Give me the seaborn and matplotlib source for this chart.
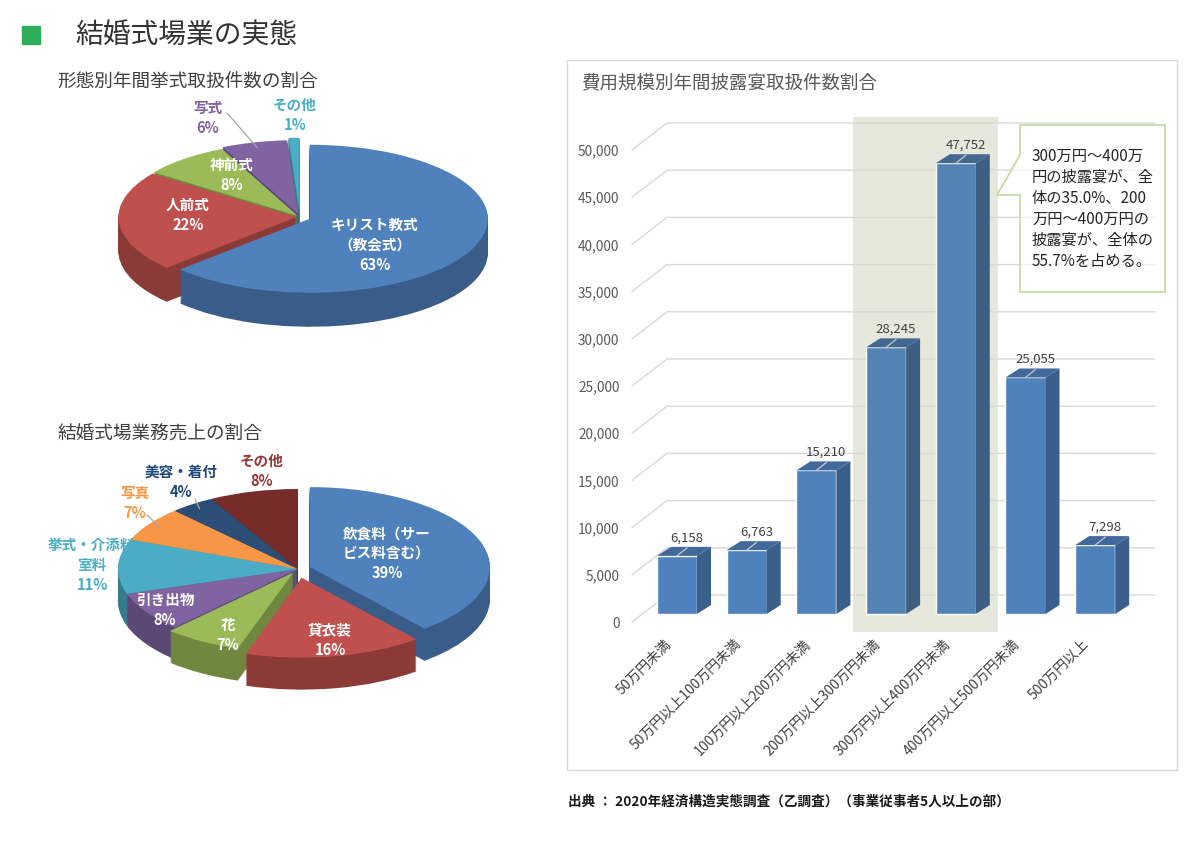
import numpy as np
import matplotlib
matplotlib.use("Agg")
import matplotlib.pyplot as plt
import seaborn as sns
from matplotlib.colors import to_rgb
from matplotlib.patches import Rectangle, Polygon
from matplotlib.transforms import ScaledTranslation

# 形態別年間挙式取扱件数の割合
ceremony_labels = ["キリスト教式\n（教会式）", "人前式", "神前式", "写式", "その他"]
ceremony_share = [63, 22, 8, 6, 1]

# 結婚式場業務売上の割合
sales_labels = ["飲食料（サー\nビス料含む）", "貸衣装", "花", "引き出物",
                "挙式・介添料\n室料", "写真", "美容・着付", "その他"]
sales_share = [39, 16, 7, 8, 11, 7, 4, 8]

# 費用規模別年間披露宴取扱件数
cost_bins = ["50万円未満", "50万円以上100万円未満", "100万円以上200万円未満",
             "200万円以上300万円未満", "300万円以上400万円未満",
             "400万円以上500万円未満", "500万円以上"]
banquet_counts = [6158, 6763, 15210, 28245, 47752, 25055, 7298]
y_ticks = list(range(0, 50001, 5000))

note = ("300万円～400万\n円の披露宴が、全\n体の35.0%、200\n"
        "万円～400万円の\n披露宴が、全体の\n55.7%を占める。")
source = "出典 ： 2020年経済構造実態調査（乙調査）（事業従事者5人以上の部）"

W, H = 1200, 844
sns.set_theme(style="white")
plt.rcParams["font.family"] = ["Noto Sans CJK JP", "DejaVu Sans"]
fig = plt.figure(figsize=(12, 8.44), dpi=100)
fig.patch.set_facecolor("white")


def fx(x):
    return x / W


def fy(y):
    return 1 - y / H


def shade(c, f):
    return tuple(np.clip(np.array(to_rgb(c)) * f, 0, 1))


def pie3d(box, center, rx, ry, depth, values, colors, explode, layers=32):
    x0, y0, x1, y1 = box
    cx, cy = center
    ax = fig.add_axes([fx(x0), fy(y1), (x1 - x0) / W, (y1 - y0) / H])
    d = depth / ry
    side = [shade(c, 0.72) for c in colors]
    for k in range(layers, 0, -1):
        ax.pie(values, colors=side, explode=explode, startangle=90,
               counterclock=False, center=(0, -d * k / layers),
               wedgeprops=dict(linewidth=0))
    wedges, _ = ax.pie(values, colors=colors, explode=explode, startangle=90,
                       counterclock=False, wedgeprops=dict(linewidth=0))
    ax.set_aspect("auto")
    ax.set_xlim((x0 - cx) / rx, (x1 - cx) / rx)
    ax.set_ylim(-(y1 - cy) / ry, (cy - y0) / ry)
    ax.axis("off")
    return ax, wedges


def pie_labels(ax, wedges, labels, values, rx, ry, offsets, colors, leaders):
    for w, lab, v, (dx, dy), c, ld in zip(wedges, labels, values, offsets, colors, leaders):
        ax.text(dx / rx, -dy / ry, f"{lab}\n{v}%", ha="center", va="center",
                color=c, fontsize=10.5, fontweight="bold", linespacing=1.3)
        if ld is not None:
            th = np.deg2rad((w.theta1 + w.theta2) / 2)
            ex, ey = w.center[0] + 0.93 * np.cos(th), w.center[1] + 0.93 * np.sin(th)
            ax.plot([ld[0] / rx, ex], [-ld[1] / ry, ey], color="#A6A6A6", lw=0.9)


# 見出し
fig.add_artist(Rectangle((fx(22), fy(44)), 18 / W, 18 / H, color="#2EAD5B",
                         transform=fig.transFigure))
fig.text(fx(75), fy(36), "結婚式場業の実態", fontsize=20, color="#333333", va="center")
fig.text(fx(57), fy(82), "形態別年間挙式取扱件数の割合", fontsize=13.4, color="#404040", va="center")
fig.text(fx(57), fy(435), "結婚式場業務売上の割合", fontsize=13.4, color="#404040", va="center")

# 上の円グラフ
top_colors = ["#4F81BD", "#C0504D", "#9BBB59", "#8064A2", "#4BACC6"]
ax1, w1 = pie3d((70, 95, 530, 360), (300, 217), 178, 74, 34, ceremony_share,
                top_colors, [0.06, 0.02, 0.02, 0.04, 0.07])
pie_labels(ax1, w1, ceremony_labels, ceremony_share, 178, 74,
           [(75, 28), (-112, -2), (-68, -42), (-92, -99), (-5, -102)],
           ["white", "white", "white", "#8064A2", "#4BACC6"],
           [None, None, None, (-73, -104), None])

# 下の円グラフ
low_colors = ["#4F81BD", "#C0504D", "#9BBB59", "#8064A2", "#4BACC6",
              "#F79646", "#2C4D75", "#772C2A"]
ax2, w2 = pie3d((40, 450, 540, 720), (298, 569), 180, 80, 32, sales_share,
                low_colors, [0.07, 0.11, 0.05, 0, 0, 0, 0, 0])
pie_labels(ax2, w2, sales_labels, sales_share, 180, 80,
           [(89, -16), (32, 71), (-70, 66), (-133, 41), (-206, -4),
            (-163, -66), (-117, -87), (-36, -98)],
           ["white", "white", "white", "white", "#4BACC6", "#F79646", "#1F497D", "#953735"],
           [None, None, None, None, None, (-151, -54), (-103, -70), None])

# 棒グラフ枠
fig.add_artist(Rectangle((fx(567), fy(770)), 610 / W, 710 / H, fill=False,
                         edgecolor="#D9D9D9", lw=1, transform=fig.transFigure))
fig.text(fx(582), fy(83), "費用規模別年間披露宴取扱件数割合", fontsize=13.3,
         color="#595959", va="center")

PX_X = 69.7          # px per category
PX_Y = 9.44 / 1000   # px per count
ax = fig.add_axes([fx(625), fy(640), 535 / W, 540 / H])
highlight = [3, 4]
bar_colors = {c: ("#5383B2" if i in highlight else "#4F81BD") for i, c in enumerate(cost_bins)}
sns.barplot(x=cost_bins, y=banquet_counts, hue=cost_bins, palette=bar_colors,
            width=0.574, saturation=1, legend=False, ax=ax, zorder=3)
bars = list(ax.patches)

dxb, dyb = 14 / PX_X, 9 / PX_Y
for i, bar in enumerate(bars):
    x0, w, h = bar.get_x(), bar.get_width(), bar.get_height()
    hl = i in highlight
    side_c = "#3E5E84" if hl else "#3B5F8B"
    top_c = "#43678F" if hl else "#41699B"
    ax.add_patch(Polygon([(x0 + w, 0), (x0 + w + dxb, dyb), (x0 + w + dxb, h + dyb), (x0 + w, h)],
                         closed=True, color=side_c, lw=0, zorder=3))
    ax.add_patch(Polygon([(x0, h), (x0 + dxb, h + dyb), (x0 + w + dxb, h + dyb), (x0 + w, h)],
                         closed=True, color=top_c, lw=0, zorder=3))
    xc = x0 + w / 2
    ax.plot([xc + 10 / PX_X, xc], [h + 8 / PX_Y, h], color="#C8C8C8", lw=0.9, zorder=4)
    ax.text(xc + 10 / PX_X, h + 18 / PX_Y, f"{h:,.0f}", ha="center", va="center",
            fontsize=9.5, color="#404040", zorder=5)

# 強調帯
ax.add_patch(Rectangle(((853 - 677) / PX_X, (614 - 632) / PX_Y), (998 - 853) / PX_X,
                       (632 - 117) / PX_Y, color="#E6E8DC", lw=0, zorder=0))

# 奥行きのある目盛線
for t in y_ticks:
    base = t - 8 / PX_Y
    ax.plot([(632 - 677) / PX_X, (667 - 677) / PX_X, (1155 - 677) / PX_X],
            [base, base + 27 / PX_Y, base + 27 / PX_Y],
            color="#D9D9D9", lw=1, zorder=1, clip_on=False)

ax.set_xlim(-(677 - 625) / PX_X, (1160 - 677) / PX_X)
ax.set_ylim(-(640 - 614) / PX_Y, (614 - 100) / PX_Y)
ax.set_yticks([t - 8 / PX_Y for t in y_ticks])
ax.set_yticklabels([f"{t:,}" for t in y_ticks], fontsize=9.8, color="#595959")
ax.set_xticks(range(len(cost_bins)))
ax.set_xticklabels(cost_bins, rotation=45, ha="right", rotation_mode="anchor",
                   fontsize=10, color="#404040")
ax.tick_params(axis="both", length=0, pad=4)
ax.tick_params(axis="x", pad=2)
ax.set_xlabel("")
ax.set_ylabel("")
sns.despine(ax=ax, left=True, bottom=True)
ax.set_facecolor("none")
shift = ScaledTranslation(-0.13, 0.06, fig.dpi_scale_trans)
for tick in ax.xaxis.get_major_ticks():
    tick.label1.set_transform(tick.label1.get_transform() + shift)

# 吹き出し
callout = [(1020, 125), (1165, 125), (1165, 292), (1020, 292), (1020, 195), (997, 195), (1020, 155)]
fig.add_artist(Polygon([(fx(x), fy(y)) for x, y in callout], closed=True,
                       facecolor=(1, 1, 1, 0.6), edgecolor="#C4D79B", lw=1.2,
                       transform=fig.transFigure, zorder=5))
fig.text(fx(1032), fy(148), note, fontsize=11, color="#262626", va="top",
         linespacing=1.31, zorder=6)

fig.text(fx(568), fy(802), source, fontsize=9.8, fontweight="bold", color="#1A1A1A", va="center")

fig.savefig("out.png", dpi=100)
